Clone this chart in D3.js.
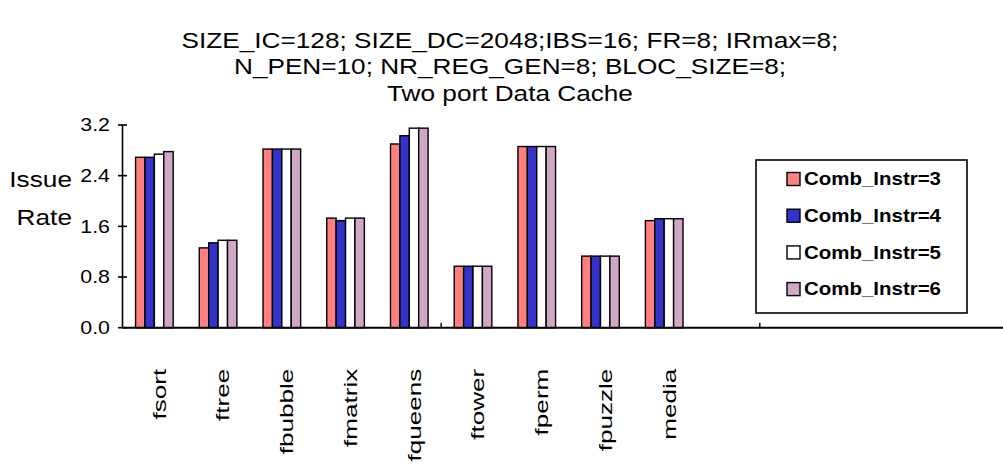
<!DOCTYPE html>
<html>
<head>
<meta charset="utf-8">
<script src="https://cdn.jsdelivr.net/npm/d3@7"></script>
<style>
  html, body { margin: 0; padding: 0; background: #fff; }
  svg { display: block; font-family: "Liberation Sans", Arial, sans-serif; }
</style>
</head>
<body>
<svg id="chart" width="1003" height="470"></svg>
<script>
// Benchmarks on the category axis
const categories = ["fsort", "ftree", "fbubble", "fmatrix", "fqueens", "ftower", "fperm", "fpuzzle", "media"];
// Issue rate per benchmark, one array per combined-instruction setting
const seriesNames = ["Comb_Instr=3", "Comb_Instr=4", "Comb_Instr=5", "Comb_Instr=6"];
const comb3 = [2.69, 1.26, 2.82, 1.73, 2.90, 0.97, 2.86, 1.13, 1.69];
const comb4 = [2.69, 1.34, 2.82, 1.69, 3.03, 0.97, 2.86, 1.13, 1.72];
const comb5 = [2.74, 1.38, 2.82, 1.73, 3.15, 0.97, 2.86, 1.13, 1.72];
const comb6 = [2.78, 1.38, 2.82, 1.73, 3.15, 0.97, 2.86, 1.13, 1.72];
const seriesColors = ["#FF8080", "#3333CC", "#FFFFFF", "#CFA8C6"];
const yTicks = [0, 0.8, 1.6, 2.4, 3.2];
const yTickLabels = ["0.0", "0.8", "1.6", "2.4", "3.2"];
const titleLines = [
  "SIZE_IC=128; SIZE_DC=2048;IBS=16; FR=8; IRmax=8;",
  "N_PEN=10; NR_REG_GEN=8; BLOC_SIZE=8;",
  "Two port Data Cache"
];
const yAxisTitle = ["Issue", "Rate"];

const values = [comb3, comb4, comb5, comb6];

// category axis holds 14 slots; tick marks every 5 slots
const slotCount = 14;
const tickEvery = 5;

const svg = d3.select("#chart");

const plotLeft = 122.5, plotBottom = 327.7, plotTop = 125;
const slotWidth = 63.73;

const x = d3.scaleBand()
  .domain(d3.range(slotCount))
  .range([plotLeft, plotLeft + slotCount * slotWidth])
  .paddingInner(0).paddingOuter(0);

const xs = d3.scaleBand()
  .domain(d3.range(seriesNames.length))
  .range([0, x.bandwidth()])
  .paddingInner(0).paddingOuter(1.39);

const y = d3.scaleLinear().domain([0, 3.2]).range([plotBottom, plotTop]);

// title
svg.append("g").selectAll("text")
  .data(titleLines)
  .join("text")
  .attr("transform", (d, i) => `translate(510,${47.5 + i * 26.5}) scale(1.19,1)`)
  .attr("text-anchor", "middle")
  .attr("font-size", 22)
  .attr("fill", "#000")
  .text(d => d);

// bars
const groups = svg.append("g").selectAll("g")
  .data(categories)
  .join("g")
  .attr("transform", (d, i) => `translate(${x(i)},0)`);

groups.selectAll("rect")
  .data((d, i) => values.map((s, k) => ({ k, v: s[i] })))
  .join("rect")
  .attr("x", d => xs(d.k))
  .attr("width", xs.bandwidth())
  .attr("y", d => y(d.v))
  .attr("height", d => y(0) - y(d.v))
  .attr("fill", d => seriesColors[d.k])
  .attr("stroke", "#000")
  .attr("stroke-width", 1.4);

// y axis
const yAxis = svg.append("g").attr("transform", `translate(${plotLeft},0)`);
yAxis.append("line")
  .attr("y1", y(3.2)).attr("y2", y(0))
  .attr("stroke", "#000").attr("stroke-width", 1.6);
yAxis.selectAll("line.tick")
  .data(yTicks)
  .join("line")
  .attr("class", "tick")
  .attr("x1", -4.5).attr("x2", 4.5)
  .attr("y1", d => y(d)).attr("y2", d => y(d))
  .attr("stroke", "#000").attr("stroke-width", 1.6);
yAxis.selectAll("text")
  .data(yTicks)
  .join("text")
  .attr("transform", d => `translate(-12.5,${y(d) + 6.3}) scale(1.22,1)`)
  .attr("text-anchor", "end")
  .attr("font-size", 17.5)
  .text((d, i) => yTickLabels[i]);

// y axis title
svg.append("g").selectAll("text")
  .data(yAxisTitle)
  .join("text")
  .attr("transform", (d, i) => `translate(72,${187 + i * 37.5}) scale(1.22,1)`)
  .attr("text-anchor", "end")
  .attr("font-size", 21.5)
  .text(d => d);

// x axis
const xAxis = svg.append("g").attr("transform", `translate(0,${plotBottom})`);
xAxis.append("line")
  .attr("x1", plotLeft).attr("x2", plotLeft + slotCount * slotWidth)
  .attr("stroke", "#000").attr("stroke-width", 2);
xAxis.selectAll("line.tick")
  .data(d3.range(tickEvery, slotCount + 1, tickEvery))
  .join("line")
  .attr("class", "tick")
  .attr("x1", d => plotLeft + d * x.step())
  .attr("x2", d => plotLeft + d * x.step())
  .attr("y1", -5).attr("y2", 0)
  .attr("stroke", "#000").attr("stroke-width", 1.4);
xAxis.selectAll("text")
  .data(categories)
  .join("text")
  .attr("transform", (d, i) => `translate(${x(i) + x.bandwidth() / 2 + 5},41) rotate(-90) scale(1.45,1)`)
  .attr("text-anchor", "end")
  .attr("dy", "0.35em")
  .attr("font-size", 18)
  .text(d => d);

// legend
const legend = svg.append("g").attr("transform", "translate(756,160)");
legend.append("rect")
  .attr("width", 211).attr("height", 153)
  .attr("fill", "#fff").attr("stroke", "#000").attr("stroke-width", 1.6);
const items = legend.selectAll("g.item")
  .data(seriesNames)
  .join("g")
  .attr("class", "item")
  .attr("transform", (d, i) => `translate(31,${19 + i * 36.7})`);
items.append("rect")
  .attr("x", 0).attr("y", -6.5)
  .attr("width", 13).attr("height", 13)
  .attr("fill", (d, i) => seriesColors[i])
  .attr("stroke", "#000").attr("stroke-width", 1.4);
items.append("text")
  .attr("transform", "translate(17,6.3) scale(1.17,1)")
  .attr("font-size", 17.5)
  .attr("font-weight", "bold")
  .text(d => d);
</script>
</body>
</html>
